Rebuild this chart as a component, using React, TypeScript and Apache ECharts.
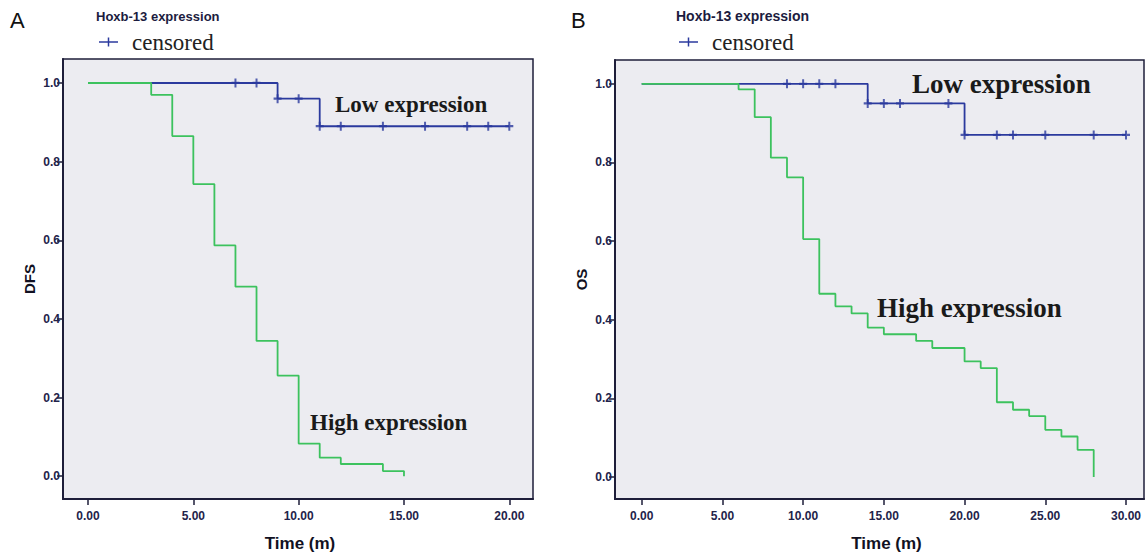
import React, { useEffect, useRef } from "react";
import * as echarts from "echarts";

// ---- Tick labels ----
const xTicksA = [0, 5, 10, 15, 20];
const xTicksB = [0, 5, 10, 15, 20, 25, 30];
const yTicks = [0, 0.2, 0.4, 0.6, 0.8, 1.0];

// ---- Panel A (DFS) ----
const timeA_low = [0, 9, 11, 20];
const survA_low = [1, 0.96, 0.89, 0.89];
const censTimeA_low = [7, 8, 9, 10, 11, 12, 14, 16, 18, 19, 20];
const censSurvA_low = [1, 1, 0.96, 0.96, 0.89, 0.89, 0.89, 0.89, 0.89, 0.89, 0.89];
const timeA_high = [0, 3, 4, 5, 6, 7, 8, 9, 10, 11, 12, 14, 15];
const survA_high = [1, 0.97, 0.865, 0.743, 0.587, 0.482, 0.344, 0.256, 0.083, 0.047, 0.031, 0.013, 0];

// ---- Panel B (OS) ----
const timeB_low = [0, 14, 20, 30];
const survB_low = [1, 0.95, 0.87, 0.87];
const censTimeB_low = [9, 10, 11, 12, 14, 15, 16, 19, 20, 22, 23, 25, 28, 30];
const censSurvB_low = [1, 1, 1, 1, 0.95, 0.95, 0.95, 0.95, 0.87, 0.87, 0.87, 0.87, 0.87, 0.87];
const timeB_high = [0, 6, 7, 8, 9, 10, 11, 12, 13, 14, 15, 17, 18, 20, 21, 22, 23, 24, 25, 26, 27, 28];
const survB_high = [1, 0.986, 0.915, 0.812, 0.762, 0.605, 0.466, 0.434, 0.416, 0.38, 0.363, 0.346, 0.328, 0.294, 0.277, 0.19, 0.171, 0.155, 0.12, 0.103, 0.069, 0];

const BLUE = "#2b3a9e";
const GREEN = "#3cc25e";
const FRAME = "#1e1e3a";
const LABEL = "#23234a";
const PLUS = "path://M3,0h2v3h3v2h-3v3h-2v-3h-3v-2h3z";

const zip = (xs: number[], ys: number[]) => xs.map((x, i) => [x, ys[i]]);

function xAxisCfg(grid: number, min: number, max: number, ticks: number[], shift: number) {
  return {
    gridIndex: grid,
    type: "value",
    min,
    max,
    axisLine: { show: true, onZero: false, lineStyle: { color: FRAME, width: 2 } },
    axisTick: { show: true, length: 6, customValues: ticks, lineStyle: { color: FRAME, width: 1.5 } },
    axisLabel: {
      customValues: ticks,
      formatter: (v: number) => v.toFixed(2),
      fontFamily: "Liberation Sans",
      fontWeight: "bold",
      fontSize: 12,
      color: LABEL,
      margin: 11,
    },
    splitLine: { show: false },
    name: "Time (m)",
    nameLocation: "middle",
    nameGap: 36,
    nameTextStyle: {
      fontFamily: "Liberation Sans",
      fontWeight: "bold",
      fontSize: 17,
      color: "#111122",
      padding: [0, 0, 0, shift],
    },
  };
}

function yAxisCfg(grid: number, min: number, max: number, name: string) {
  return {
    gridIndex: grid,
    type: "value",
    min,
    max,
    axisLine: { show: true, onZero: false, lineStyle: { color: FRAME, width: 2 } },
    axisTick: { show: true, length: 6, customValues: yTicks, lineStyle: { color: FRAME, width: 1.5 } },
    axisLabel: {
      customValues: yTicks,
      formatter: (v: number) => v.toFixed(1),
      fontFamily: "Liberation Sans",
      fontWeight: "bold",
      fontSize: 12,
      color: LABEL,
      margin: 3,
    },
    splitLine: { show: false },
    name,
    nameLocation: "middle",
    nameGap: 26,
    nameTextStyle: { fontFamily: "Liberation Sans", fontWeight: "bold", fontSize: 15, color: "#111122" },
  };
}

function stepSeries(xi: number, data: number[][], color: string, z: number) {
  return {
    type: "line",
    xAxisIndex: xi,
    yAxisIndex: xi,
    step: "end",
    data,
    showSymbol: false,
    symbol: "none",
    lineStyle: { color, width: 1.8 },
    z,
  };
}

function censSeries(xi: number, data: number[][]) {
  return {
    type: "scatter",
    xAxisIndex: xi,
    yAxisIndex: xi,
    data,
    symbol: PLUS,
    symbolSize: [8, 9],
    itemStyle: { color: BLUE },
    z: 4,
  };
}

function legendGraphics(x0: number, fs: number) {
  return [
    {
      type: "text",
      x: x0,
      y: 16,
      style: {
        text: "Hoxb-13 expression",
        font: `bold ${fs}px "Liberation Sans"`,
        fill: "#1c1c40",
        verticalAlign: "middle",
      },
    },
    {
      type: "line",
      shape: { x1: x0 + 3, y1: 42, x2: x0 + 22, y2: 42 },
      style: { stroke: BLUE, lineWidth: 1.5 },
    },
    {
      type: "line",
      shape: { x1: x0 + 12.5, y1: 37.5, x2: x0 + 12.5, y2: 46.5 },
      style: { stroke: BLUE, lineWidth: 1.5 },
    },
    {
      type: "text",
      x: x0 + 36,
      y: 42,
      style: { text: "censored", font: `23px "Liberation Serif"`, fill: "#222", verticalAlign: "middle" },
    },
  ];
}

function annot(text: string, x: number, y: number, fs: number) {
  return {
    type: "text",
    x,
    y,
    style: { text, font: `bold ${fs}px "Liberation Serif"`, fill: "#1a1a1a", verticalAlign: "middle" },
  };
}

export default function App() {
  const ref = useRef<HTMLDivElement>(null);
  useEffect(() => {
    if (!ref.current) return;
    const chart = echarts.init(ref.current, undefined, { renderer: "svg" });
    chart.setOption({
      animation: false,
      backgroundColor: "#ffffff",
      grid: [
        { left: 63, top: 59, width: 470, height: 444, show: true, backgroundColor: "#ececf1", borderColor: FRAME, borderWidth: 1.5, containLabel: false },
        { left: 615, top: 60, width: 529, height: 443, show: true, backgroundColor: "#ececf1", borderColor: FRAME, borderWidth: 1.5, containLabel: false },
      ],
      xAxis: [xAxisCfg(0, -1.187, 21.125, xTicksA, 4), xAxisCfg(1, -1.654, 31.115, xTicksB, 14)],
      yAxis: [yAxisCfg(0, -0.058, 1.061, "DFS"), yAxisCfg(1, -0.056, 1.0605, "OS")],
      series: [
        stepSeries(0, zip(timeA_low, survA_low), BLUE, 2),
        stepSeries(0, zip(timeA_high, survA_high), GREEN, 3),
        censSeries(0, zip(censTimeA_low, censSurvA_low)),
        stepSeries(1, zip(timeB_low, survB_low), BLUE, 2),
        stepSeries(1, zip(timeB_high, survB_high), GREEN, 3),
        censSeries(1, zip(censTimeB_low, censSurvB_low)),
      ],
      graphic: [
        { type: "text", x: 10, y: 20, style: { text: "A", font: `22px "Liberation Sans"`, fill: "#111", verticalAlign: "middle" } },
        { type: "text", x: 571, y: 20, style: { text: "B", font: `22px "Liberation Sans"`, fill: "#111", verticalAlign: "middle" } },
        ...legendGraphics(96, 13),
        ...legendGraphics(676, 14),
        annot("Low expression", 335, 104, 23),
        annot("High expression", 310, 422, 23),
        annot("Low expression", 912, 84, 27),
        annot("High expression", 877, 308, 27),
      ],
    });
    return () => chart.dispose();
  }, []);
  return (
    <div
      ref={ref}
      style={{ position: "absolute", left: 0, top: 0, width: 1145, height: 557 }}
    />
  );
}
